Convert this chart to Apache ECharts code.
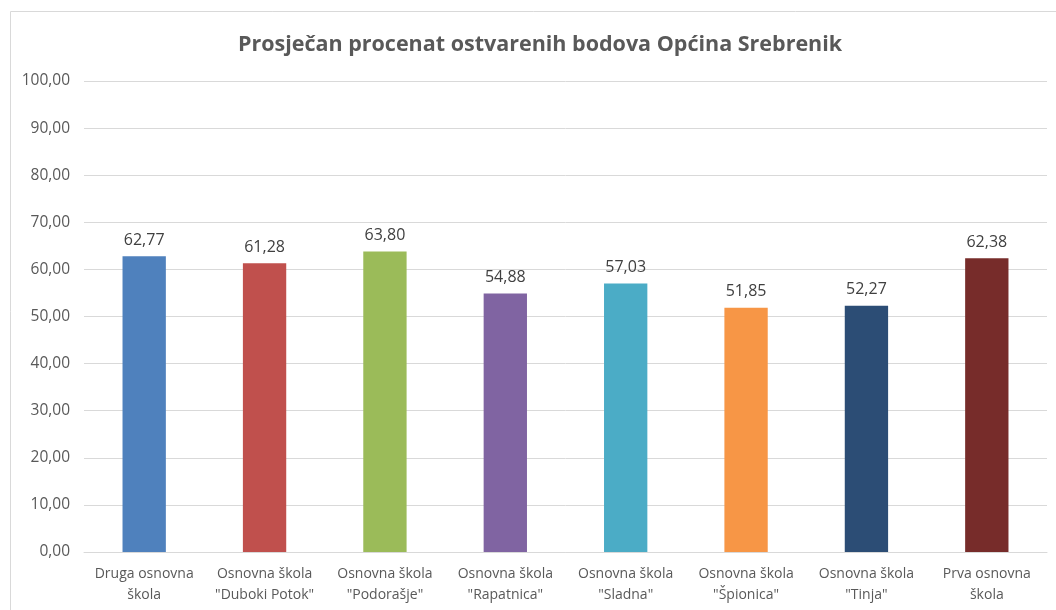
<!DOCTYPE html>
<html>
<head>
<meta charset="utf-8">
<script src="https://cdn.jsdelivr.net/npm/echarts@6/dist/echarts.min.js"></script>
<style>
  html, body { margin: 0; padding: 0; background: #fff; }
  #chart { width: 1056px; height: 610px; }
</style>
</head>
<body>
<div id="chart"></div>
<script>
const categories = [
  'Druga osnovna\nškola',
  'Osnovna škola\n"Duboki Potok"',
  'Osnovna škola\n"Podorašje"',
  'Osnovna škola\n"Rapatnica"',
  'Osnovna škola\n"Sladna"',
  'Osnovna škola\n"Špionica"',
  'Osnovna škola\n"Tinja"',
  'Prva osnovna\nškola',
];
const values = [62.77, 61.28, 63.8, 54.88, 57.03, 51.85, 52.27, 62.38];
const barColors = ['#4f81bd', '#c0504d', '#9bbb59', '#8064a2', '#4bacc6', '#f79646', '#2c4d75', '#772c2a'];

const fmt = (v) => v.toFixed(2).replace('.', ',');
const font = '"Open Sans", "Noto Sans", sans-serif';

const chart = echarts.init(document.getElementById('chart'), null, { renderer: 'canvas' });

chart.setOption({
  animation: false,
  textStyle: { fontFamily: font },
  graphic: [
    {
      type: 'rect',
      shape: { x: 10.5, y: 11.5, width: 1060, height: 620 },
      style: { fill: 'none', stroke: '#d9d9d9', lineWidth: 1 },
      silent: true,
    },
  ],
  title: {
    text: 'Prosječan procenat ostvarenih bodova Općina Srebrenik',
    left: 535,
    textAlign: 'center',
    top: 29,
    textStyle: { fontFamily: font, fontSize: 21.5, fontWeight: 'bold', color: '#595959' },
  },
  grid: { left: 84, right: 9, top: 81, bottom: 58 },
  xAxis: {
    type: 'category',
    data: categories,
    axisLine: { show: true, lineStyle: { color: '#d9d9d9' } },
    axisTick: { show: false },
    axisLabel: {
      color: '#595959',
      fontSize: 14,
      lineHeight: 21,
      margin: 12,
      interval: 0,
    },
  },
  yAxis: {
    type: 'value',
    min: 0,
    max: 100,
    interval: 10,
    axisLine: { show: false },
    axisTick: { show: false },
    splitLine: { lineStyle: { color: '#d9d9d9' } },
    axisLabel: {
      color: '#595959',
      fontSize: 15.5,
      margin: 14,
      formatter: (v) => fmt(v),
    },
  },
  series: [
    {
      type: 'bar',
      data: values.map((v, i) => ({ value: v, itemStyle: { color: barColors[i] } })),
      barWidth: '36%',
      label: {
        show: true,
        position: 'top',
        distance: 8,
        color: '#404040',
        fontSize: 16,
        formatter: (p) => fmt(p.value),
      },
    },
  ],
});
</script>
</body>
</html>
